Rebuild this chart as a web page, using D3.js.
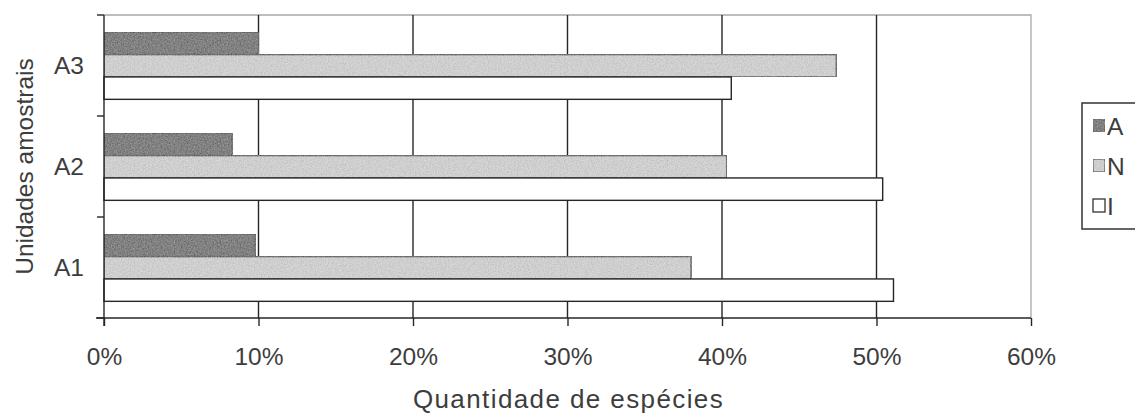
<!DOCTYPE html>
<html>
<head>
<meta charset="utf-8">
<script src="https://cdn.jsdelivr.net/npm/d3@7"></script>
<style>
  html, body { margin: 0; padding: 0; background: #fff; }
  svg { display: block; }
  text { font-family: "Liberation Sans", Arial, Helvetica, sans-serif; fill: #3d3d3d; }
</style>
</head>
<body>
<svg id="chart" width="1135" height="413"></svg>
<script>
// Sample units (top to bottom) and species groups
const units = ["A3", "A2", "A1"];
const groups = ["A", "N", "I"];

// Share of species per group in each unit
const valuesA = [0.100, 0.083, 0.098];
const valuesN = [0.474, 0.403, 0.380];
const valuesI = [0.406, 0.504, 0.511];

const xTicks = [0, 0.1, 0.2, 0.3, 0.4, 0.5, 0.6];
const xTitle = "Quantidade de espécies";
const yTitle = "Unidades amostrais";

// Base fills (the grain overlay shifts them slightly)
const fills = { A: "#5a5a5a", N: "#d6d6d6", I: "#ffffff" };

const rows = units.map((u, i) => ({
  unit: u,
  A: valuesA[i],
  N: valuesN[i],
  I: valuesI[i]
}));

const svg = d3.select("#chart");
const plotLeft = 104, plotRight = 1031, plotTop = 15, plotBottom = 318;

const x = d3.scaleLinear().domain([0, 0.6]).range([plotLeft, plotRight]);
const y = d3.scaleBand().domain(units).range([plotTop, plotBottom]).padding(0);
const bw = y.bandwidth();
const inner = d3.scaleBand().domain(groups).range([bw * 0.17, bw * 0.835]).padding(0);

// Grain texture for the shaded bars
const defs = svg.append("defs");
const grain = defs.append("filter").attr("id", "grain")
  .attr("x", 0).attr("y", 0).attr("width", 1).attr("height", 1);
grain.append("feTurbulence").attr("type", "fractalNoise")
  .attr("baseFrequency", 0.7).attr("numOctaves", 2).attr("seed", 4).attr("result", "noise");
grain.append("feColorMatrix").attr("in", "noise").attr("type", "matrix")
  .attr("values", "1 0 0 0 0  1 0 0 0 0  1 0 0 0 0  0 0 0 0 0.3")
  .attr("result", "gray");
grain.append("feComposite").attr("in", "gray").attr("in2", "SourceGraphic")
  .attr("operator", "in").attr("result", "g2");
grain.append("feMerge").call(m => {
  m.append("feMergeNode").attr("in", "SourceGraphic");
  m.append("feMergeNode").attr("in", "g2");
});

// Plot frame (light) on top and right
svg.append("path")
  .attr("d", `M${plotLeft},${plotTop}H${plotRight}V${plotBottom}`)
  .attr("fill", "none").attr("stroke", "#a8a8a8").attr("stroke-width", 1.3);

// Vertical gridlines
svg.append("g").selectAll("line")
  .data(xTicks.filter(t => t > 0 && t < 0.6))
  .join("line")
  .attr("x1", d => x(d)).attr("x2", d => x(d))
  .attr("y1", plotTop).attr("y2", plotBottom)
  .attr("stroke", "#262626").attr("stroke-width", 1.4);

// Bars
const gUnits = svg.append("g").selectAll("g")
  .data(rows).join("g")
  .attr("transform", d => `translate(0,${y(d.unit)})`);

gUnits.selectAll("rect")
  .data(d => groups.map(k => ({ key: k, value: d[k] })))
  .join("rect")
  .attr("x", x(0))
  .attr("y", d => inner(d.key))
  .attr("width", d => x(d.value) - x(0))
  .attr("height", inner.bandwidth())
  .attr("fill", d => fills[d.key])
  .attr("stroke", "#262626")
  .attr("stroke-width", 1.4)
  .attr("filter", d => d.key === "I" ? null : "url(#grain)");

// X axis
const xAxis = d3.axisBottom(x)
  .tickValues(xTicks)
  .tickFormat(d3.format(".0%"))
  .tickSize(8)
  .tickPadding(22);
const gx = svg.append("g").attr("transform", `translate(0,${plotBottom})`).call(xAxis);
gx.select(".domain").attr("stroke", "#262626").attr("stroke-width", 1.4)
  .attr("d", `M${plotLeft - 8},0H${plotRight}`);
gx.selectAll(".tick line").attr("stroke", "#262626").attr("stroke-width", 1.4);
gx.selectAll(".tick text").attr("font-size", 24.5).style("fill", "#3d3d3d")
  .attr("font-family", "Liberation Sans, Arial, sans-serif");

// Y axis (category boundaries as ticks)
const yAxis = d3.axisLeft(y).tickSize(0).tickPadding(20);
const gy = svg.append("g").attr("transform", `translate(${plotLeft},0)`).call(yAxis);
gy.select(".domain").attr("stroke", "#262626").attr("stroke-width", 1.4)
  .attr("d", `M0,${plotTop}V${plotBottom + 8}`);
gy.selectAll(".tick text").attr("font-size", 24.5).style("fill", "#3d3d3d")
  .attr("font-family", "Liberation Sans, Arial, sans-serif")
  .attr("dy", "0.36em");
const boundaries = units.map(u => y(u)).concat([plotBottom]);
gy.append("g").selectAll("line").data(boundaries).join("line")
  .attr("x1", -7).attr("x2", 0)
  .attr("y1", d => d).attr("y2", d => d)
  .attr("stroke", "#262626").attr("stroke-width", 1.4);

// Axis titles
svg.append("text")
  .attr("x", (plotLeft + plotRight) / 2 + 1)
  .attr("y", 408)
  .attr("text-anchor", "middle")
  .attr("font-size", 26)
  .attr("letter-spacing", 1.4)
  .text(xTitle);

svg.append("text")
  .attr("transform", `translate(33,${(plotTop + plotBottom) / 2}) rotate(-90)`)
  .attr("text-anchor", "middle")
  .attr("font-size", 24.5)
  .text(yTitle);

// Legend
const legend = svg.append("g").attr("transform", "translate(1082,103)");
legend.append("rect")
  .attr("x", 0).attr("y", 0).attr("width", 80).attr("height", 126)
  .attr("fill", "#fff").attr("stroke", "#333").attr("stroke-width", 1.5);
const ly = d3.scalePoint().domain(groups).range([23, 103]);
const items = legend.selectAll("g.item").data(groups).join("g")
  .attr("class", "item")
  .attr("transform", d => `translate(11,${ly(d)})`);
items.append("rect")
  .attr("x", 0).attr("y", -7).attr("width", 12).attr("height", 13)
  .attr("fill", d => fills[d]).attr("stroke", "#333").attr("stroke-width", 1.3)
  .attr("filter", d => d === "I" ? null : "url(#grain)");
items.append("text")
  .attr("x", 14).attr("y", 0).attr("dy", "0.36em")
  .attr("font-size", 24.5)
  .text(d => d);
</script>
</body>
</html>
